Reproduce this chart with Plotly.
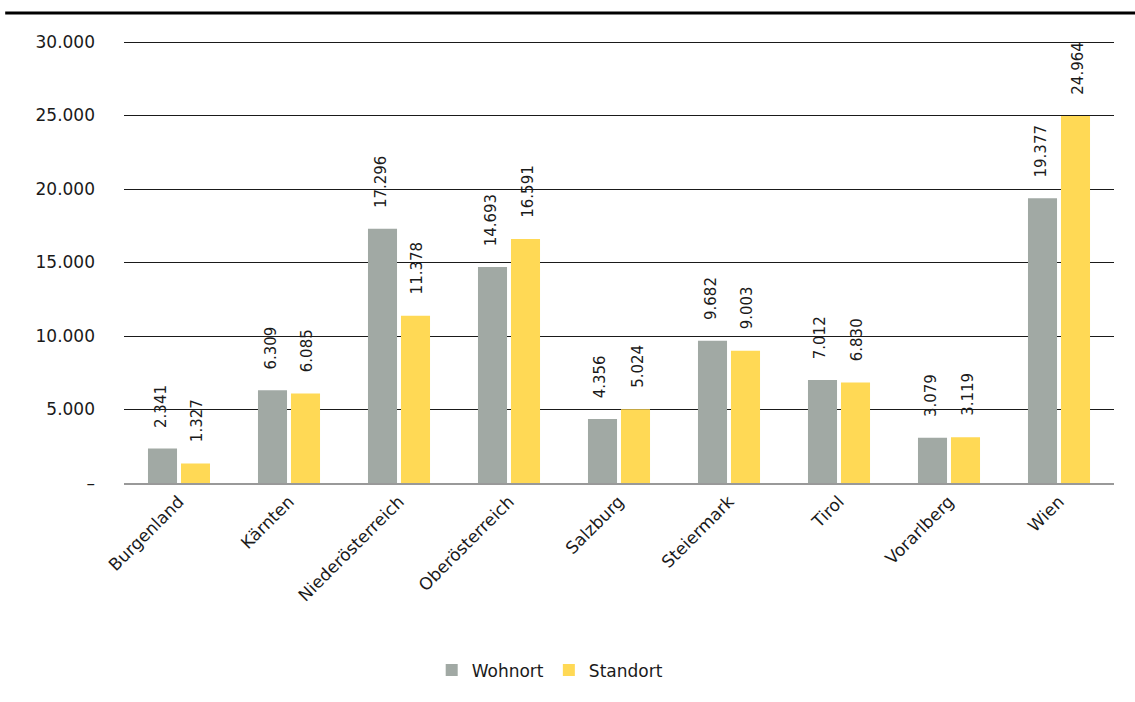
import plotly.graph_objects as go

regions = ["Burgenland", "Kärnten", "Niederösterreich", "Oberösterreich", "Salzburg",
           "Steiermark", "Tirol", "Vorarlberg", "Wien"]
wohnort = [2341, 6309, 17296, 14693, 4356, 9682, 7012, 3079, 19377]
standort = [1327, 6085, 11378, 16591, 5024, 9003, 6830, 3119, 24964]

y_ticks = [0, 5000, 10000, 15000, 20000, 25000, 30000]
y_tick_text = ["–", "5.000", "10.000", "15.000", "20.000", "25.000", "30.000"]

GRAY = "#A1A9A4"
YELLOW = "#FFD955"
FONT = "DejaVu Sans"
TEXT = "#1a1a1a"


def de_format(v):
    return f"{v:,}".replace(",", ".")


fig = go.Figure()
fig.add_trace(go.Bar(name="Wohnort", x=regions, y=wohnort, marker_color=GRAY,
                     marker_line_width=0))
fig.add_trace(go.Bar(name="Standort", x=regions, y=standort, marker_color=YELLOW,
                     marker_line_width=0))

# vertical value labels above each bar
annotations = []
for i, r in enumerate(regions):
    for val, off in ((wohnort[i], -0.165), (standort[i], 0.165)):
        annotations.append(dict(
            x=i + off, y=val, xref="x", yref="y",
            text=de_format(val), textangle=-90, showarrow=False,
            xanchor="center", yanchor="bottom", yshift=19,
            font=dict(family=FONT, size=15, color=TEXT),
        ))

PLOT_H = 702 - 42 - 219

fig.update_layout(
    width=1135, height=702,
    margin=dict(l=124, r=21, t=42, b=219, autoexpand=False),
    paper_bgcolor="white", plot_bgcolor="white",
    barmode="group", bargap=0.4, bargroupgap=0.12,
    font=dict(family=FONT, size=17, color=TEXT),
    annotations=annotations,
    legend=dict(orientation="h", x=0.43, xanchor="center", y=-0.425, yanchor="middle",
                font=dict(family=FONT, size=17, color=TEXT),
                itemwidth=30, traceorder="normal"),
    shapes=[
        # heavy rule across the top of the page
        dict(type="line", xref="paper", yref="paper", x0=-0.12, x1=1.03,
             y0=1.0658, y1=1.0658, line=dict(color="black", width=3)),
        # gridline along the top edge of the plot (half a pixel in, kept crisp)
        dict(type="line", xref="paper", yref="paper", x0=0, x1=1,
             y0=1 - 0.5 / PLOT_H, y1=1 - 0.5 / PLOT_H,
             line=dict(color=TEXT, width=1), layer="below"),
    ],
)

fig.update_xaxes(type="category", tickangle=-45, showgrid=False, ticks="",
                 showline=True, linecolor="#999999", linewidth=2,
                 tickfont=dict(family=FONT, size=17, color=TEXT),
                 range=[-0.5, len(regions) - 0.5])
fig.update_yaxes(range=[0, y_ticks[-1]], tickvals=y_ticks, ticktext=y_tick_text,
                 showgrid=True, gridcolor=TEXT, gridwidth=1,
                 zeroline=False, ticks="", ticklabelstandoff=28,
                 tickfont=dict(family=FONT, size=17, color=TEXT))

fig.write_html("out.html")
